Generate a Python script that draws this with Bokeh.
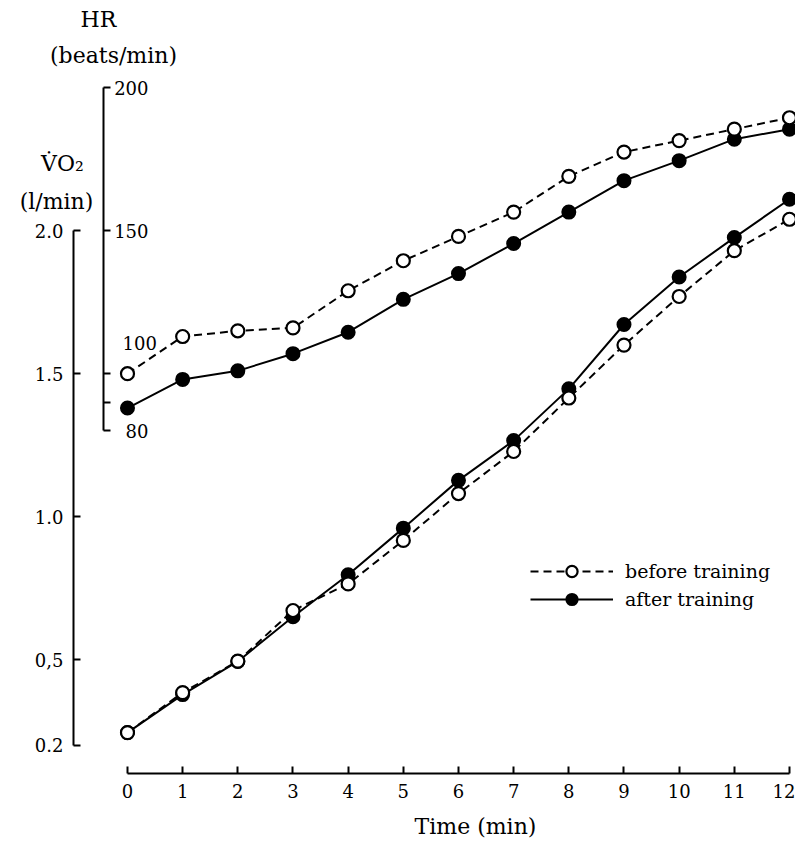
from bokeh.plotting import figure
from bokeh.models import Range1d, LinearAxis, FixedTicker, Legend, LegendItem, Label
from bokeh.embed import file_html
from bokeh.resources import INLINE

# ---------------- data ----------------
time_min = [0, 1, 2, 3, 4, 5, 6, 7, 8, 9, 10, 11, 12]

hr_before = [100, 113, 115, 116, 129, 139.5, 148, 156.5, 169, 177.5, 181.5, 185.5, 189.5]
hr_after = [88, 98, 101, 107, 114.5, 126, 135, 145.5, 156.5, 167.5, 174.5, 182, 185.5]

vo2_before = [0.245, 0.385, 0.495, 0.672, 0.765, 0.917, 1.081, 1.228, 1.415, 1.60, 1.77, 1.93, 2.04]
vo2_after = [0.245, 0.378, 0.494, 0.650, 0.797, 0.960, 1.127, 1.266, 1.447, 1.672, 1.838, 1.976, 2.11]

time_ticks = [0, 1, 2, 3, 4, 5, 6, 7, 8, 9, 10, 11, 12]
vo2_ticks = [0.2, 0.5, 1.0, 1.5, 2.0]
vo2_tick_labels = ["0.2", "0,5", "1.0", "1.5", "2.0"]
hr_ticks = [80, 90, 100, 150, 200]
hr_tick_labels = ["80", "", "", "150", "200"]
hr_shifted_tick = 100
hr_shifted_label = "100"

series_labels = ["before training", "after training"]
x_title = "Time (min)"
hr_title = ["HR", "(beats/min)"]
vo2_title = ["V\u0307O\u2082", "(l/min)"]

# ---------------- layout / style ----------------
FONT = "DejaVu Serif"
W, H = 795, 839
X_START, X_END = -2.302, 12.109          # frame covers the whole canvas
VO2_START, VO2_END = -0.1287, 2.8049
HR_START, HR_END = -62.87, 230.49         # HR = 100 + (VO2 - 1.5) * 100
VO2_AXIS_X = -0.979                       # where the VO2 axis stands (in minutes)
HR_AXIS_X = -0.435                        # where the HR axis stands (in minutes)
X_AXIS_Y = 0.1021                         # where the time axis stands (in l/min)

p = figure(width=W, height=H,
           x_range=Range1d(X_START, X_END), y_range=Range1d(VO2_START, VO2_END),
           output_backend="svg", toolbar_location=None,
           min_border_left=0, min_border_right=0, min_border_top=0, min_border_bottom=0)
p.extra_y_ranges = {"hr": Range1d(HR_START, HR_END)}
p.grid.visible = False
p.outline_line_color = None
p.background_fill_color = "white"
p.border_fill_color = "white"


def style_axis(ax):
    ax.axis_line_color = "black"
    ax.axis_line_width = 2
    ax.major_tick_line_color = "black"
    ax.major_tick_line_width = 2
    ax.major_tick_in = 7
    ax.major_tick_out = 0
    ax.minor_tick_line_color = None
    ax.major_label_text_font = FONT
    ax.major_label_text_font_size = "18px"
    ax.major_label_text_color = "black"


# time axis
xa = p.xaxis[0]
style_axis(xa)
xa.fixed_location = X_AXIS_Y
xa.ticker = FixedTicker(ticks=time_ticks)
xa.bounds = (min(time_ticks), max(time_ticks))
xa.major_label_standoff = 11

# VO2 axis (outer left)
ya = p.yaxis[0]
style_axis(ya)
ya.fixed_location = VO2_AXIS_X
ya.ticker = FixedTicker(ticks=vo2_ticks)
ya.bounds = (min(vo2_ticks), max(vo2_ticks))
ya.major_label_overrides = dict(zip(vo2_ticks, vo2_tick_labels))
ya.major_label_standoff = 10

# HR axis (inner, labels on its right side)
hr_axis = LinearAxis(y_range_name="hr", fixed_location=HR_AXIS_X)
style_axis(hr_axis)
hr_axis.ticker = FixedTicker(ticks=hr_ticks)
hr_axis.bounds = (min(hr_ticks), max(hr_ticks))
hr_axis.major_label_overrides = dict(zip(hr_ticks, hr_tick_labels))
hr_axis.major_label_standoff = -45
p.add_layout(hr_axis, "left")

# ---------------- series ----------------
LW = 2
DASH = "8 5"
MS = 13

r_ha_line = p.line(time_min, hr_after, y_range_name="hr", line_color="black", line_width=LW)
r_va_line = p.line(time_min, vo2_after, line_color="black", line_width=LW)
r_hb_line = p.line(time_min, hr_before, y_range_name="hr", line_color="black", line_width=LW, line_dash=DASH)
r_vb_line = p.line(time_min, vo2_before, line_color="black", line_width=LW, line_dash=DASH)

r_ha_pts = p.scatter(time_min, hr_after, y_range_name="hr", marker="circle", size=MS,
                     fill_color="black", line_color="black", line_width=2)
r_va_pts = p.scatter(time_min, vo2_after, marker="circle", size=MS,
                     fill_color="black", line_color="black", line_width=2)
r_hb_pts = p.scatter(time_min, hr_before, y_range_name="hr", marker="circle", size=MS,
                     fill_color="white", line_color="black", line_width=2.2)
r_vb_pts = p.scatter(time_min, vo2_before, marker="circle", size=MS,
                     fill_color="white", line_color="black", line_width=2.2)

# ---------------- legend ----------------
legend = Legend(items=[LegendItem(label=series_labels[0], renderers=[r_hb_line, r_hb_pts]),
                       LegendItem(label=series_labels[1], renderers=[r_ha_line, r_ha_pts])],
                location=(530, 226), orientation="vertical",
                glyph_width=83, glyph_height=28, label_height=28, label_standoff=12,
                spacing=0, padding=0, margin=0,
                border_line_color=None, background_fill_alpha=0,
                label_text_font=FONT, label_text_font_size="19px", label_text_color="black")
p.add_layout(legend)


# ---------------- axis titles & shifted tick label ----------------
def add_label(text, x, y, x_off, y_off, size, align="center", y_range_name="default"):
    p.add_layout(Label(x=x, y=y, x_offset=x_off, y_offset=y_off, text=text, y_range_name=y_range_name,
                       text_align=align, text_baseline="middle", text_font=FONT,
                       text_font_size=size, text_color="black"))


add_label(hr_title[0], HR_AXIS_X, max(hr_ticks), -5, 68, "22px", y_range_name="hr")
add_label(hr_title[1], HR_AXIS_X, max(hr_ticks), 10, 32, "22px", y_range_name="hr")
add_label(vo2_title[0], VO2_AXIS_X, max(vo2_ticks), -11, 67, "22px")
add_label(vo2_title[1], VO2_AXIS_X, max(vo2_ticks), -17, 29, "22px")
add_label(hr_shifted_label, HR_AXIS_X, hr_shifted_tick, 19, 31, "18px", align="left", y_range_name="hr")
add_label(x_title, (min(time_ticks) + max(time_ticks)) / 2, X_AXIS_Y, 17, -53, "22px")

open("out.html", "w").write(file_html(p, INLINE))
